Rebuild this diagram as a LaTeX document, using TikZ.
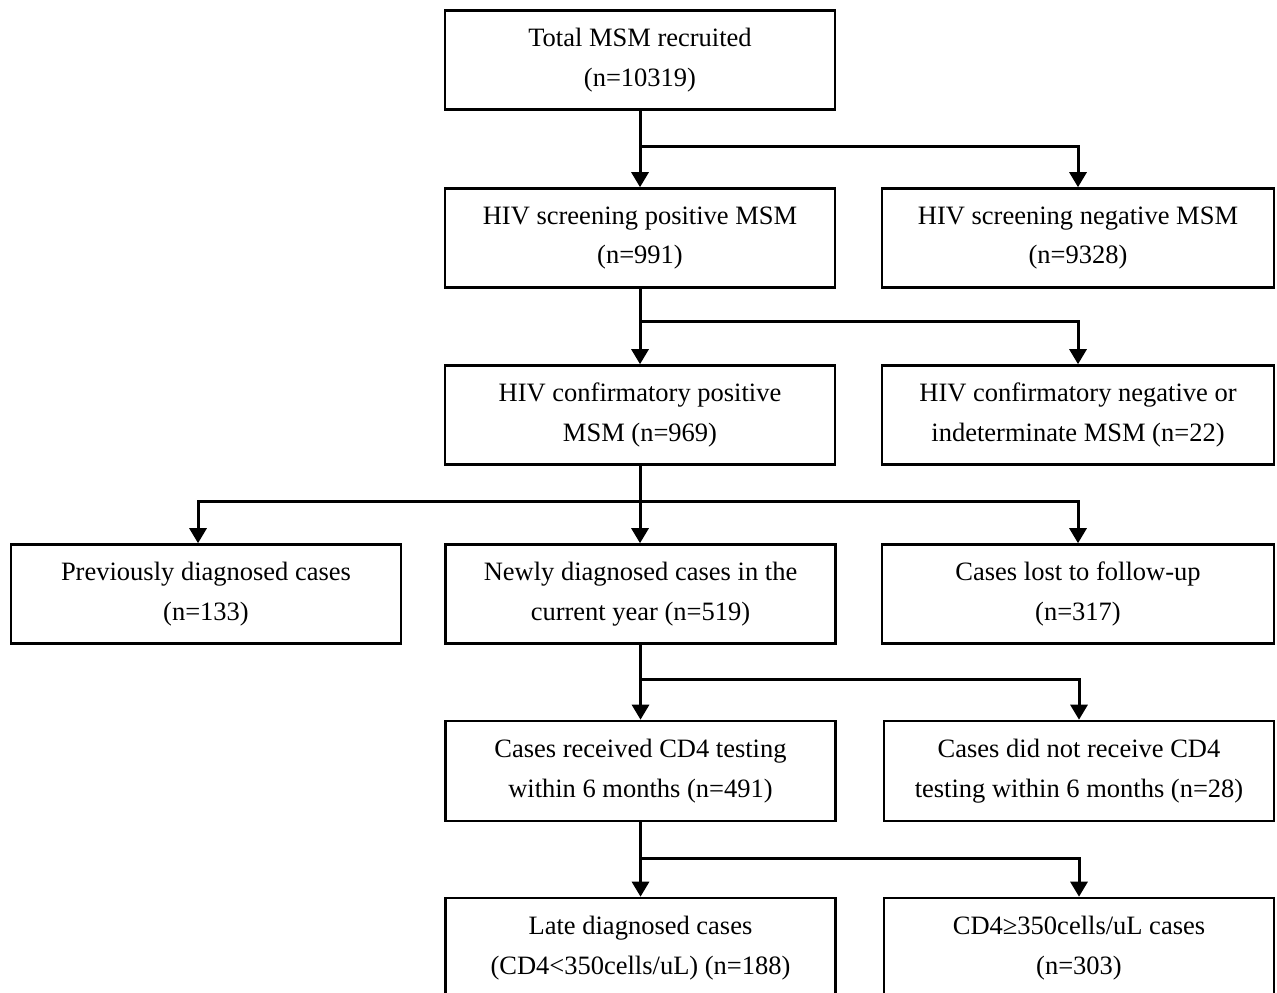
\documentclass[tikz,border=0pt]{standalone}
\usepackage{fontspec}
\setmainfont{Liberation Serif}
\usetikzlibrary{arrows.meta}

\begin{document}
\begin{tikzpicture}[x=1pt,y=-1pt,
    box/.style={draw,line width=2.6pt,minimum width=390pt,minimum height=99pt,align=center,inner sep=0pt,
      font=\fontsize{26.5}{39.5}\selectfont},
    arr/.style={line width=3pt,-{Triangle[width=17pt,length=15pt]}}]
    \path[use as bounding box,clip] (0,0) rectangle (1277,993);
    \fill[white] (0,0) rectangle (1277,993);
    \node[box] (top) at (640, 60) {Total MSM recruited\\(n=10319)};
    \node[box] (scrpos) at (640, 238) {HIV screening positive MSM\\(n=991)};
    \node[box,minimum width=392pt] (scrneg) at (1078, 238) {HIV screening negative MSM\\(n=9328)};
    \node[box] (confpos) at (640, 415) {HIV confirmatory positive\\MSM (n=969)};
    \node[box,minimum width=392pt] (confneg) at (1078, 415) {HIV confirmatory negative or\\indeterminate MSM (n=22)};
    \node[box] (prev) at (206, 594) {Previously diagnosed cases\\(n=133)};
    \node[box] (newdx) at (640.5, 594) {Newly diagnosed cases in the\\current year (n=519)};
    \node[box,minimum width=392pt] (lost) at (1078, 594) {Cases lost to follow-up\\(n=317)};
    \node[box,minimum height=100pt] (cdtest) at (640.5, 771) {Cases received CD4 testing\\within 6 months (n=491)};
    \node[box,minimum height=100pt] (nocd) at (1079, 771) {Cases did not receive CD4\\testing within 6 months (n=28)};
    \node[box,minimum height=100pt] (late) at (640.5, 948) {Late diagnosed cases\\(CD4<350cells/uL) (n=188)};
    \node[box,minimum height=100pt] (high) at (1079, 948) {CD4≥350cells/uL cases\\(n=303)};
    % connectors
    \draw [arr] (top) to (scrpos);
    \draw [arr] (640, 146) -| (scrneg);
    \draw [arr] (scrpos) to (confpos);
    \draw [arr] (640, 321) -| (confneg);
    \draw [arr] (confpos.south) to (confpos.south |- newdx.north);
    \draw [arr] (640, 501) -| (prev.north -| 198, 0);
    \draw [arr] (640, 501) -| (lost);
    \draw [arr] (newdx) to (cdtest);
    \draw [arr] (640.5, 679) -| (nocd);
    \draw [arr] (cdtest) to (late);
    \draw [arr] (640.5, 858) -| (high);
  \end{tikzpicture}
\end{document}
